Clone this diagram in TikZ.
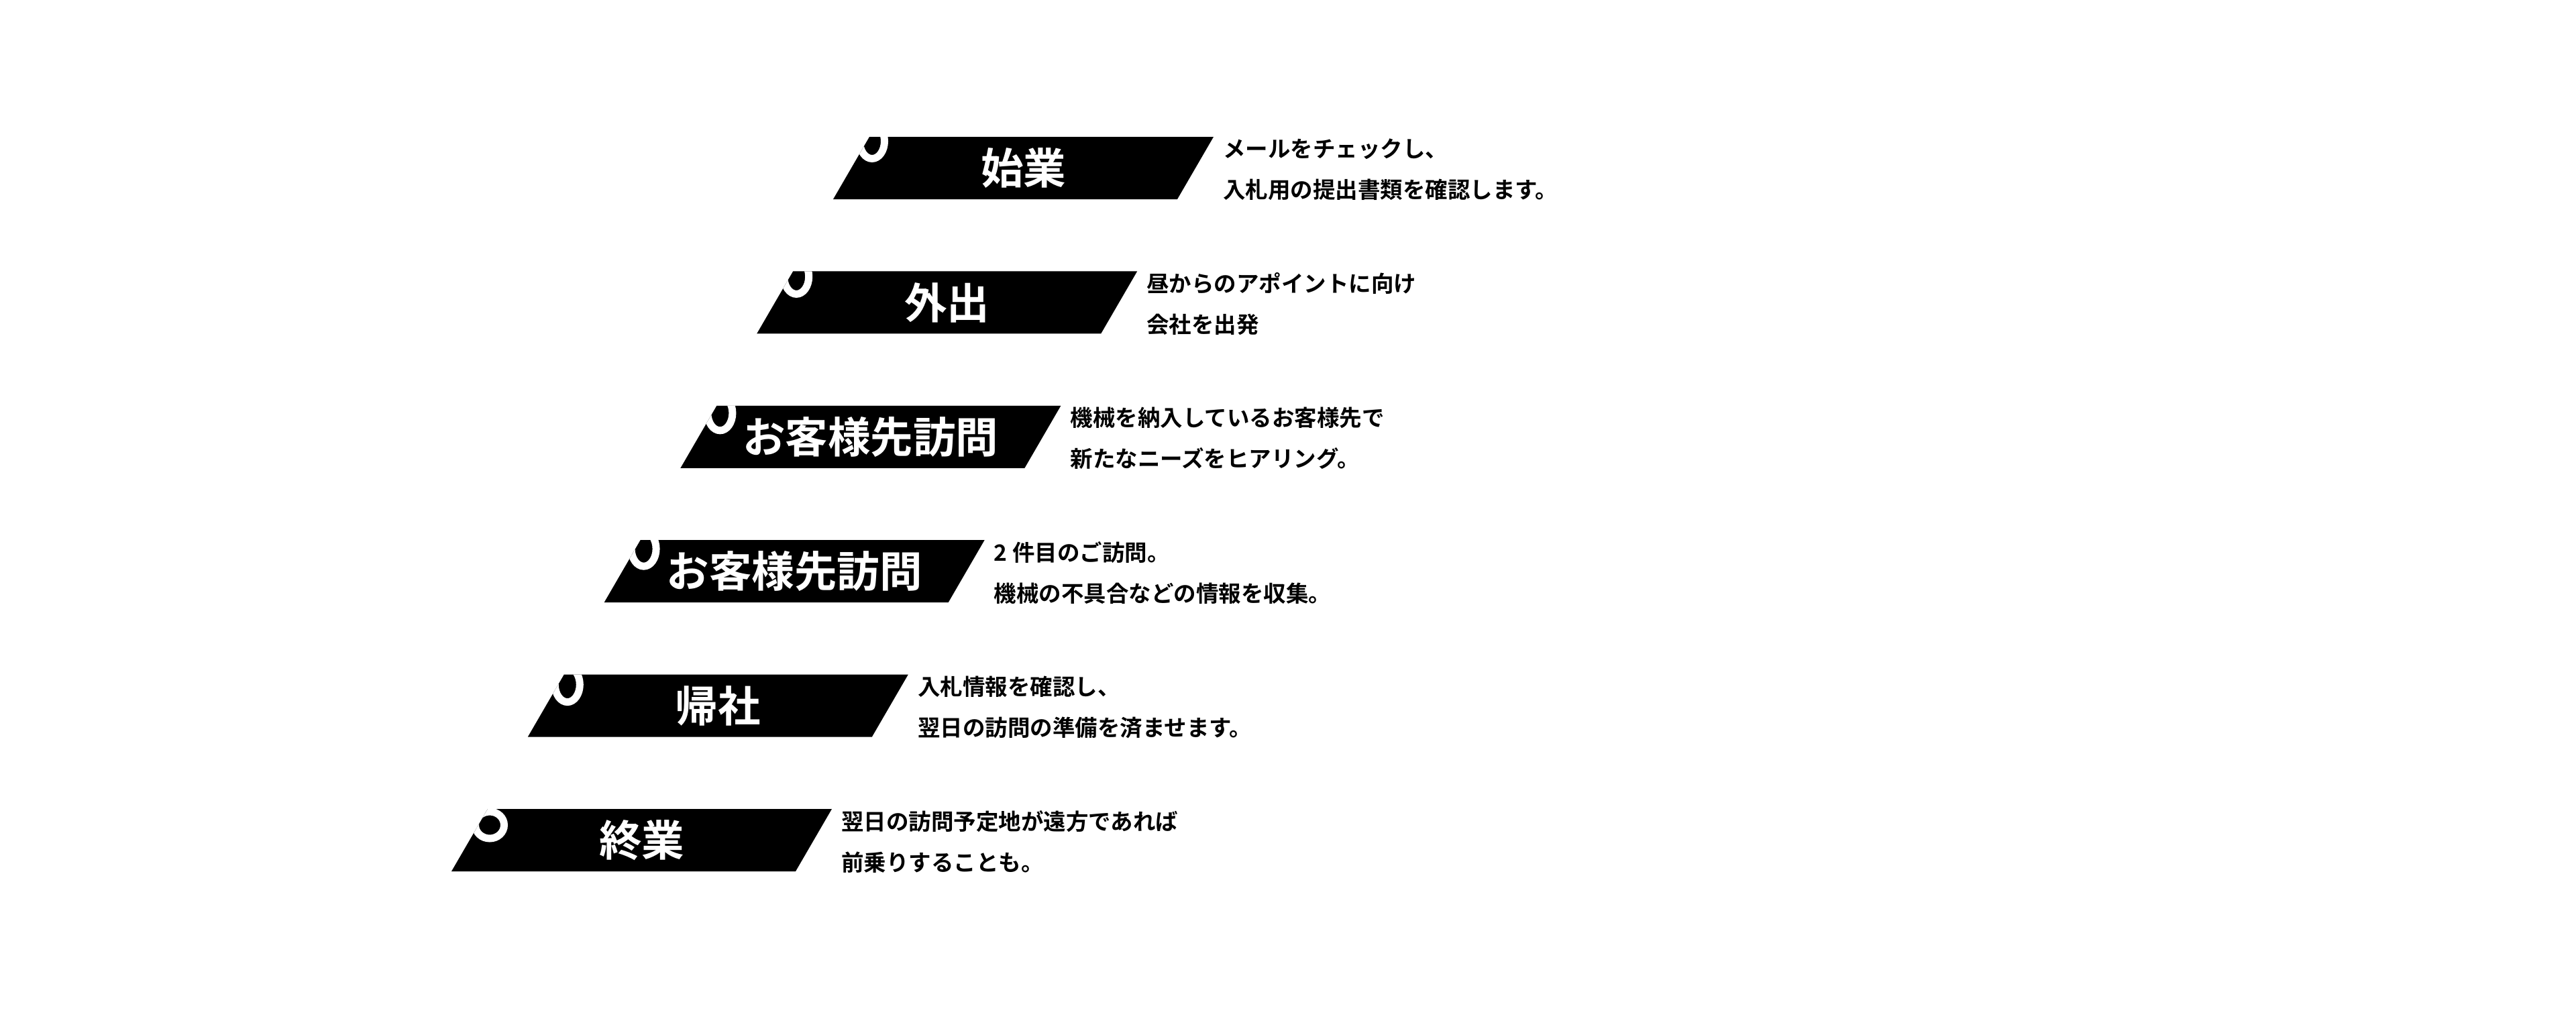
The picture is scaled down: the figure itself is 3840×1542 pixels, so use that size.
\documentclass[tikz,border=0pt]{standalone}
\usepackage{fontspec}
\usetikzlibrary{calc}
\newfontfamily\jpfont{Noto Sans CJK JP}[BoldFont={Noto Sans CJK JP Bold}]
\begin{document}
\begin{tikzpicture}[x=1pt,y=-1pt,
  bartitle/.style={text=white,inner sep=0pt,font=\jpfont\bfseries\fontsize{63.5}{70}\selectfont},
  bardesc/.style={text=black,inner sep=0pt,anchor=west,align=left,font=\jpfont\bfseries\fontsize{33.5}{61}\selectfont},
  ringline/.style={draw=white,line width=11pt}]
\fill[white] (0,0) rectangle (3840,1542);
\useasboundingbox (0,0) rectangle (3840,1542);
\foreach \i/\ttl/\la/\lb/\rxo/\ry/\rx/\rr in {
  0/始業/メールをチェックし、/入札用の提出書類を確認します。/4/6.5/18.5/26,
  1/外出/昼からのアポイントに向け/会社を出発/5/8/18.5/26,
  2/お客様先訪問/機械を納入しているお客様先で/新たなニーズをヒアリング。/5/11/18.5/26,
  3/お客様先訪問/2 件目のご訪問。/機械の不具合などの情報を収集。/5/13/18.5/26,
  4/帰社/入札情報を確認し、/翌日の訪問の準備を済ませます。/5/15/18.5/26,
  5/終業/翌日の訪問予定地が遠方であれば/前乗りすることも。/3/24/21.5/20}{
  \pgfmathsetmacro{\T}{204+200.4*\i}
  \pgfmathsetmacro{\B}{\T+93}
  \pgfmathsetmacro{\L}{1242-113.8*\i}
  \coordinate (bl\i) at (\L,\B);
  \coordinate (br\i) at (\L+513,\B);
  \coordinate (tr\i) at (\L+567,\T);
  \coordinate (tl\i) at (\L+54,\T);
  \fill[black] (bl\i) -- (br\i) -- (tr\i) -- (tl\i) -- cycle;
  \begin{scope}
    \clip (bl\i) -- (br\i) -- (tr\i) -- (tl\i) -- cycle;
    \draw[ringline] ([shift={(\rxo,\ry)}]tl\i) ellipse [x radius=\rx, y radius=\rr];
  \end{scope}
  \node[bartitle] (title\i) at ($(bl\i)!0.5!(tr\i)$) {\ttl};
  \node[bardesc] (desc\i) at ([shift={(14,48.5)}]tr\i) {\la\\\lb};
}
\end{tikzpicture}
\end{document}
